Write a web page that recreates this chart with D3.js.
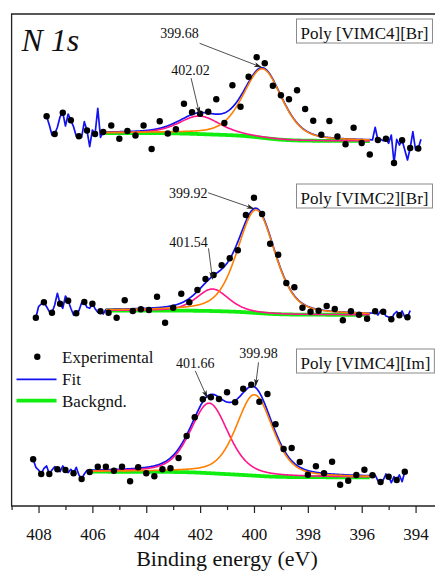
<!DOCTYPE html>
<html>
<head>
<meta charset="utf-8">
<script src="https://cdn.jsdelivr.net/npm/d3@7"></script>
<style>
  html, body { margin: 0; padding: 0; background: #fff; overflow: hidden; }
</style>
</head>
<body>
<svg id="chart" width="435" height="572"></svg>
<script>
// ---------- N 1s spectra: three samples, stacked ----------
const samples = ["Poly [VIMC4][Br]", "Poly [VIMC2][Br]", "Poly [VIMC4][Im]"];
const offsets = [36, 19, 3];               // vertical offset of each spectrum (a.u.)

// Experimental points (binding energy, eV / intensity, a.u. above offset)
const energyVIMC4Br = [407.7,407.4,407.1,406.8,406.5,406.2,405.9,405.6,405.3,405.0,404.7,404.4,404.1,403.8,403.5,403.2,402.9,402.6,402.3,402.0,401.7,401.4,401.1,400.8,400.5,400.2,399.9,399.6,399.3,399.0,398.7,398.4,398.1,397.8,397.5,397.2,396.9,396.6,396.3,396.0,395.7,395.4,395.1,394.8,394.5,394.2,393.9];
const countsVIMC4Br = [2.97,1.2,3.33,2.57,0.97,1.55,1.2,1.4,2.05,0.73,1.5,1.05,2.05,-0.3,2.47,1.25,1.67,4.22,3.37,3.22,3.43,4.68,2.3,6.08,3.93,6.92,8.88,8.28,6.03,5.07,4.68,5.57,3.7,2.53,1.12,2.5,0.95,0.18,1.83,0.3,-0.85,0.6,0.73,-1.7,0.57,-0.2,-0.25];

const energyVIMC2Br = [408.1,407.8,407.5,407.2,406.9,406.6,406.3,406.0,405.7,405.4,405.1,404.8,404.5,404.2,403.9,403.6,403.3,403.0,402.7,402.4,402.1,401.8,401.5,401.2,400.9,400.6,400.3,400.0,399.7,399.4,399.1,398.8,398.5,398.2,397.9,397.6,397.3,397.0,396.7,396.4,396.1,395.8,395.5,395.2,394.9,394.6,394.3];
const countsVIMC2Br = [-0.17,1.37,0.33,1.23,1.53,0.27,1.4,1.23,0.47,0.33,-0.17,1.57,0.5,0.67,0.6,1.93,-0.67,0.83,2.23,1.37,2.6,3.7,4.1,5.07,5.77,6.57,10.1,11.83,10.2,7.23,6.13,3.3,2.87,0.83,0.43,0.53,1.0,0.7,-0.43,0.47,0.13,-0.27,0.47,0.43,-0.33,0.07,-0.13];

const energyVIMC4Im = [408.2,407.9,407.6,407.3,407.0,406.7,406.4,406.1,405.8,405.5,405.2,404.9,404.6,404.3,404.0,403.7,403.4,403.1,402.8,402.5,402.2,401.9,401.6,401.3,401.0,400.7,400.4,400.1,399.8,399.5,399.2,398.9,398.6,398.3,398.0,397.7,397.4,397.1,396.8,396.5,396.2,395.9,395.6,395.3,395.0,394.7,394.4];
const countsVIMC4Im = [1.67,0.2,0.2,0.67,0.6,0.27,-0.3,0.4,0.93,0.93,0.53,0.93,-0.53,0.87,0.27,-0.03,0.67,0.77,1.8,4.0,5.87,7.67,7.87,7.7,8.37,7.37,8.73,9.13,7.43,8.2,5.17,2.7,2.8,1.4,0.13,0.97,0.27,1.43,-0.87,-0.47,0.1,0.63,0.07,-0.6,-0.07,-0.4,0.43];

// Raw trace outside the fitted window (0.1 eV steps)
const tailLeftEnergy = [
  [407.7,407.6,407.5,407.4,407.3,407.2,407.1,407.0,406.9,406.8,406.7,406.6,406.5,406.4,406.3,406.2,406.1,406.0,405.9,405.8,405.7,405.6],
  [408.1,408.0,407.9,407.8,407.7,407.6,407.5,407.4,407.3,407.2,407.1,407.0,406.9,406.8,406.7,406.6,406.5,406.4,406.3,406.2,406.1,406.0,405.9,405.8,405.7,405.6],
  [408.2,408.1,408.0,407.9,407.8,407.7,407.6,407.5,407.4,407.3,407.2,407.1,407.0,406.9,406.8,406.7,406.6,406.5,406.4,406.3]
];
const tailLeftCounts = [
  [2.97,2.1,1.1,1.2,1.87,2.93,3.33,2.0,3.2,2.57,1.93,1.0,0.97,0.87,2.43,1.55,-0.07,1.6,1.2,3.77,0.87,1.4],
  [-0.17,0.93,1.2,1.37,0.93,0.43,0.33,1.1,2.27,1.23,0.77,2.0,1.53,0.77,0.1,0.27,0.53,1.33,1.4,0.87,0.77,1.23,0.73,0.37,0.47,0.2],
  [1.67,0.87,0.6,0.2,0.77,1.0,0.2,0.6,0.93,0.67,0.43,1.0,0.6,0.33,0.67,0.27,0.87,0.1,-0.3,0.2]
];
const tailRightEnergy = [
  [395.6,395.5,395.4,395.3,395.2,395.1,395.0,394.9,394.8,394.7,394.6,394.5,394.4,394.3,394.2,394.1,394.0,393.9,393.8],
  [395.6,395.5,395.4,395.3,395.2,395.1,395.0,394.9,394.8,394.7,394.6,394.5,394.4,394.3,394.2],
  [395.6,395.5,395.4,395.3,395.2,395.1,395.0,394.9,394.8,394.7,394.6,394.5,394.4,394.3]
];
const tailRightCounts = [
  [0.6,1.87,0.6,0.67,0.53,0.73,0.27,1.1,-1.7,0.67,0.1,0.57,-0.4,-1.4,-0.2,1.43,-0.4,-0.25,0.67],
  [0.3,0.47,0.1,0.5,0.43,0.0,-0.1,-0.33,0.2,0.45,0.07,0.5,-0.1,-0.13,0.55],
  [0.07,0.1,-0.47,-0.6,-0.4,0.2,-0.07,-0.67,-0.07,-0.4,0.1,-0.57,0.43,0.3]
];

// Fit results: window, Shirley end levels and two components per spectrum
const fitHigh = [405.5, 405.5, 406.2];
const fitLow  = [395.7, 395.7, 395.7];
const bgHigh  = [1.3, 0.55, 0.43];
const bgLow   = [0.5, 0.12, -0.13];
const peakHighBE   = [402.02, 401.54, 401.66];
const heightHighBE = [1.8, 2.2, 7.0];
const fwhmHighBE   = [1.8, 1.4, 1.65];
const peakLowBE    = [399.68, 399.92, 399.98];
const heightLowBE  = [6.9, 10.3, 8.1];
const fwhmLowBE    = [1.7, 1.65, 1.6];
const lorentzMix = 0.4;

const xTicksMajor = [408, 406, 404, 402, 400, 398, 396, 394];
const xTicksMinor = [409, 407, 405, 403, 401, 399, 397, 395, 393];

// ---------- drawing ----------
const FONT = "'Liberation Serif', Tinos, 'Times New Roman', Times, 'DejaVu Serif', serif";
const colors = { fit: "#1212f2", bg: "#10ee10", high: "#ff148c", low: "#ff8000", dot: "#000" };
const svg = d3.select("#chart");
const x = d3.scaleLinear().domain([409, 393]).range([11.6, 442.5]);
const y = d3.scaleLinear().domain([0, 49.2]).range([506, 14]);

const energySets = [energyVIMC4Br, energyVIMC2Br, energyVIMC4Im];
const countSets  = [countsVIMC4Br, countsVIMC2Br, countsVIMC4Im];

function pseudoVoigt(e, c, h, w) {
  const u = (e - c) / (w / 2);
  return h * ((1 - lorentzMix) * Math.exp(-Math.LN2 * u * u) + lorentzMix / (1 + u * u));
}

function addText(sel, str, size) {
  return sel.append("text")
    .style("font-family", FONT)
    .attr("font-size", size).attr("fill", "#111").text(str);
}

svg.append("defs").append("marker")
  .attr("id", "arrow").attr("viewBox", "0 0 10 6")
  .attr("refX", 9.5).attr("refY", 3)
  .attr("markerWidth", 8).attr("markerHeight", 5)
  .attr("markerUnits", "userSpaceOnUse").attr("orient", "auto")
  .append("path").attr("d", "M0,0 L10,3 L0,6 L2.5,3 Z").attr("fill", "#222");

const line = d3.line().x(d => x(d[0])).y(d => y(d[1]));

const fits = samples.map((name, k) => {
  // model evaluated across the fitted window
  const n = Math.round((fitHigh[k] - fitLow[k]) / 0.02);
  const grid = d3.range(n + 1).map(i => fitLow[k] + (fitHigh[k] - fitLow[k]) * i / n);
  const hi = grid.map(e => pseudoVoigt(e, peakHighBE[k], heightHighBE[k], fwhmHighBE[k]));
  const lo = grid.map(e => pseudoVoigt(e, peakLowBE[k], heightLowBE[k], fwhmLowBE[k]));
  // Shirley background: step proportional to the integrated peak area
  const cum = [0];
  for (let i = 1; i < grid.length; i++) {
    const s0 = hi[i - 1] + lo[i - 1], s1 = hi[i] + lo[i];
    cum.push(cum[i - 1] + (s0 + s1) / 2 * (grid[i] - grid[i - 1]));
  }
  const total = cum[cum.length - 1];
  const bg = cum.map(c => bgLow[k] + (bgHigh[k] - bgLow[k]) * c / total);
  return { grid, hi, lo, bg };
});

samples.forEach((name, k) => {
  const off = offsets[k];
  const f = fits[k];
  const g = svg.append("g");
  const rev = arr => arr.slice().reverse();
  const grid = rev(f.grid), bg = rev(f.bg), hi = rev(f.hi), lo = rev(f.lo);

  g.append("path")
    .attr("d", line(grid.map((e, i) => [e, off + bg[i]])))
    .attr("fill", "none").attr("stroke", colors.bg).attr("stroke-width", 3.8);

  const fitTrace = []
    .concat(tailLeftEnergy[k].map((e, i) => [e, off + tailLeftCounts[k][i]]))
    .concat(grid.map((e, i) => [e, off + bg[i] + hi[i] + lo[i]]))
    .concat(tailRightEnergy[k].map((e, i) => [e, off + tailRightCounts[k][i]]));
  g.append("path").attr("d", line(fitTrace))
    .attr("fill", "none").attr("stroke", colors.fit).attr("stroke-width", 1.7)
    .attr("stroke-linejoin", "round");

  g.append("path")
    .attr("d", line(grid.map((e, i) => [e, off + bg[i] + hi[i]])))
    .attr("fill", "none").attr("stroke", colors.high).attr("stroke-width", 1.6);
  g.append("path")
    .attr("d", line(grid.map((e, i) => [e, off + bg[i] + lo[i]])))
    .attr("fill", "none").attr("stroke", colors.low).attr("stroke-width", 1.6);

  g.selectAll("circle").data(energySets[k]).join("circle")
    .attr("cx", d => x(d)).attr("cy", (d, i) => y(off + countSets[k][i]))
    .attr("r", 3.2).attr("fill", colors.dot);
});

// peak position annotations: text offset and arrow start relative to the arrow tip
function fitValueAt(k, e) {
  const f = fits[k];
  const i = d3.minIndex(f.grid, g => Math.abs(g - e));
  return offsets[k] + f.bg[i] + f.hi[i] + f.lo[i];
}
const notes = [
  { k: 0, e: peakLowBE[0],  tip: [-1, -0.5],  text: [-82, -29], from: [-62, -24] },
  { k: 0, e: peakHighBE[0], tip: [0, 1.5],    text: [-9, -39],  from: [-8.5, -36] },
  { k: 1, e: peakLowBE[1],  tip: [-2, 0.5],   text: [-66, -11], from: [-46, -16] },
  { k: 1, e: peakHighBE[1], tip: [0, 3],      text: [-24, -32], from: [-4, -31] },
  { k: 2, e: peakHighBE[2], tip: [-2, 3],     text: [-12, -30], from: [-12, -27] },
  { k: 2, e: peakLowBE[2],  tip: [1, -0.5],   text: [3, -28],   from: [3, -24] }
];
notes.forEach(n => {
  const tx = x(n.e) + n.tip[0], ty = y(fitValueAt(n.k, n.e)) + n.tip[1];
  svg.append("line")
    .attr("x1", tx + n.from[0]).attr("y1", ty + n.from[1])
    .attr("x2", tx).attr("y2", ty)
    .attr("stroke", "#222").attr("stroke-width", 0.8)
    .attr("marker-end", "url(#arrow)");
  addText(svg, n.e.toFixed(2), 14)
    .attr("x", tx + n.text[0]).attr("y", ty + n.text[1])
    .attr("text-anchor", "middle");
});

// sample name boxes
const boxTop = [19, 184, 349];
samples.forEach((name, k) => {
  const t = addText(svg, name, 17).attr("x", 300.5).attr("y", boxTop[k] + 20);
  const w = t.node().getComputedTextLength();
  svg.insert("rect", "text")
    .attr("x", 296.5).attr("y", boxTop[k])
    .attr("width", w + 8).attr("height", 24)
    .attr("fill", "#fff").attr("stroke", "#8a8a8a").attr("stroke-width", 1);
});

// core level label
addText(svg, "N 1s", 32).attr("x", 21.5).attr("y", 50.5).attr("font-style", "italic");

// legend
const lg = svg.append("g");
lg.append("circle").attr("cx", 37.3).attr("cy", 356.7).attr("r", 3.2).attr("fill", colors.dot);
lg.append("line").attr("x1", 16.5).attr("x2", 56.5).attr("y1", 379.3).attr("y2", 379.3)
  .attr("stroke", colors.fit).attr("stroke-width", 1.7);
lg.append("line").attr("x1", 16.5).attr("x2", 56.5).attr("y1", 400.7).attr("y2", 400.7)
  .attr("stroke", colors.bg).attr("stroke-width", 3.8);
[["Experimental", 362.5], ["Fit", 384.5], ["Backgnd.", 406.5]].forEach(([label, yy]) => {
  addText(lg, label, 17).attr("x", 62).attr("y", yy);
});

// frame and x axis
svg.append("path")
  .attr("d", `M${x(393) + 5},${y(49.2)} H${x(409)} V${y(0)} H${x(393) + 5}`)
  .attr("fill", "none").attr("stroke", "#222").attr("stroke-width", 1.3);

const axisMajor = svg.append("g").attr("transform", `translate(0,${y(0)})`)
  .call(d3.axisBottom(x).tickValues(xTicksMajor).tickSize(7).tickPadding(15).tickFormat(d3.format("d")));
axisMajor.select(".domain").remove();
axisMajor.selectAll("line").attr("stroke", "#222").attr("stroke-width", 1.2);
axisMajor.attr("font-family", null).attr("font-size", null);
axisMajor.selectAll("text").style("font-family", FONT).attr("font-size", 17).attr("fill", "#111");

const axisMinor = svg.append("g").attr("transform", `translate(0,${y(0)})`)
  .call(d3.axisBottom(x).tickValues(xTicksMinor).tickSize(4).tickFormat(""));
axisMinor.select(".domain").remove();
axisMinor.selectAll("line").attr("stroke", "#222").attr("stroke-width", 1.2);

addText(svg, "Binding energy (eV)", 22).attr("x", 227).attr("y", 566).attr("text-anchor", "middle");
</script>
</body>
</html>
